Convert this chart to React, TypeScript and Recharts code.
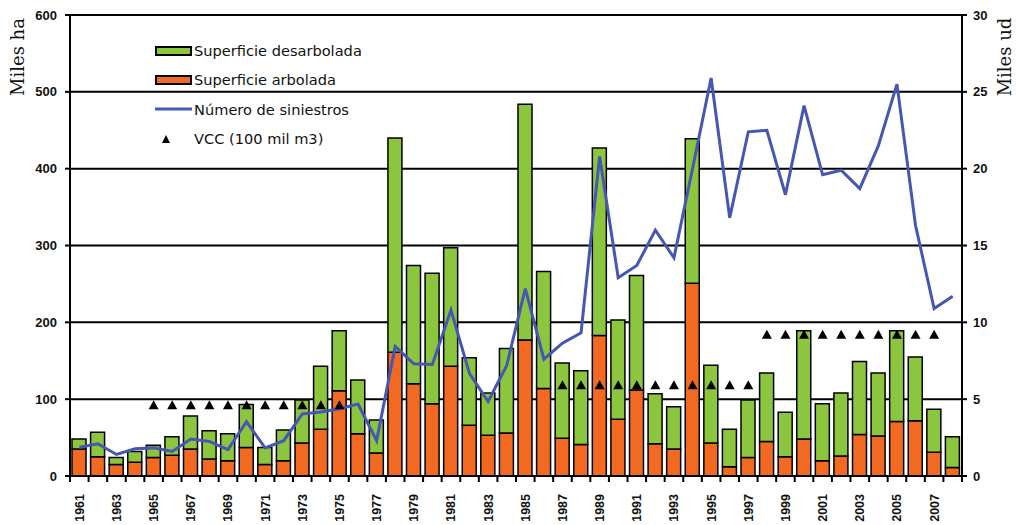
import React from "react";
import {
  ComposedChart,
  Bar,
  Line,
  Scatter,
  XAxis,
  YAxis,
  CartesianGrid,
} from "recharts";

const years = [
  1961, 1962, 1963, 1964, 1965, 1966, 1967, 1968, 1969, 1970, 1971, 1972,
  1973, 1974, 1975, 1976, 1977, 1978, 1979, 1980, 1981, 1982, 1983, 1984,
  1985, 1986, 1987, 1988, 1989, 1990, 1991, 1992, 1993, 1994, 1995, 1996,
  1997, 1998, 1999, 2000, 2001, 2002, 2003, 2004, 2005, 2006, 2007, 2008,
];

// miles ha
const arbolada = [
  35, 25, 15, 18, 24, 27, 35, 22, 20, 37, 15, 20, 43, 61, 111, 55, 30,
  161, 120, 94, 143, 66, 53, 56, 177, 114, 49, 41, 183, 74, 112, 42, 35, 251,
  43, 12, 24, 45, 25, 48, 20, 26, 54, 52, 71, 72, 31, 11,
];
const desarbolada = [
  13, 32, 9, 14, 16, 24, 43, 37, 35, 56, 22, 40, 56, 82, 78, 70, 43,
  279, 154, 170, 154, 88, 55, 110, 307, 152, 98, 96, 244, 129, 149, 65, 55, 188,
  101, 49, 75, 89, 58, 141, 74, 82, 95, 82, 118, 83, 56, 40,
];

// miles ud
const siniestros = [
  1.87, 2.1, 1.4, 1.77, 1.83, 1.6, 2.4, 2.25, 1.72, 3.53, 1.83, 2.3, 4.04,
  4.17, 4.38, 4.68, 2.3, 8.43, 7.3, 7.26, 10.8, 6.66, 4.85, 7.19, 12.2, 7.6,
  8.64, 9.32, 20.8, 12.9, 13.7, 16.0, 14.2, 20.0, 25.9, 16.8, 22.4, 22.5, 18.3,
  24.1, 19.6, 19.9, 18.7, 21.5, 25.5, 16.3, 10.9, 11.7,
];

// 100 mil m3
const vcc: (number | null)[] = [
  null, null, null, null, 4.6, 4.6, 4.6, 4.6, 4.6, 4.6, 4.6, 4.6, 4.6, 4.6,
  4.6, null, null, null, null, null, null, null, null, null, null, null, 5.9,
  5.9, 5.9, 5.9, 5.9, 5.9, 5.9, 5.9, 5.9, 5.9, 5.9, 9.2, 9.2, 9.2, 9.2, 9.2,
  9.2, 9.2, 9.2, 9.2, 9.2, null,
];

const leftTicks = [0, 100, 200, 300, 400, 500, 600];
const rightTicks = [0, 5, 10, 15, 20, 25, 30];

const data = years.map((y, i) => ({
  year: y,
  arbolada: arbolada[i],
  desarbolada: desarbolada[i],
  siniestros: siniestros[i],
  vcc: vcc[i],
}));

const GREEN = "#8cc63f";
const ORANGE = "#f26a22";
const BLUE = "#4657b3";
const HALF = 892 / 48 / 2;

const YearTick = (props: any) => {
  const { x, y, payload, index } = props;
  const yr = payload.value;
  return (
    <g>
      <line x1={x - HALF} x2={x - HALF} y1={y} y2={y + 6} stroke="#000" strokeWidth={2} />
      {index === years.length - 1 && (
        <line x1={x + HALF} x2={x + HALF} y1={y} y2={y + 6} stroke="#000" strokeWidth={2} />
      )}
      {yr % 2 === 1 && (
        <text
          x={x}
          y={y + 18}
          dy="0.36em"
          transform={`rotate(-90, ${x}, ${y + 18})`}
          textAnchor="end"
          fontFamily="Liberation Sans, Arial, sans-serif"
          fontWeight="bold"
          fontSize={12.5}
          fill="#111"
        >
          {yr}
        </text>
      )}
    </g>
  );
};

const Triangle = (props: any) => {
  const { cx, cy, payload } = props;
  if (payload == null || payload.vcc == null) return <g />;
  return (
    <path
      d={`M${cx},${cy - 5} L${cx + 5},${cy + 4} L${cx - 5},${cy + 4} Z`}
      fill="#000"
    />
  );
};

const legendItems = [
  { label: "Superficie desarbolada", kind: "box", color: GREEN },
  { label: "Superficie arbolada", kind: "box", color: ORANGE },
  { label: "Número de siniestros", kind: "line", color: BLUE },
  { label: "VCC (100 mil m3)", kind: "tri", color: "#000" },
];

const LegendBox = () => (
  <div
    style={{
      position: "absolute",
      left: 155,
      top: 36,
      fontFamily: "DejaVu Sans, sans-serif",
      fontSize: 14.6,
      color: "#111",
    }}
  >
    {legendItems.map((it) => (
      <div key={it.label} style={{ display: "flex", alignItems: "center", height: 29.3 }}>
        <svg width={38} height={14} style={{ marginRight: 1 }}>
          {it.kind === "box" && (
            <rect x={1} y={3} width={35} height={8} fill={it.color} stroke="#000" strokeWidth={2} />
          )}
          {it.kind === "line" && <line x1={0} x2={37} y1={7} y2={7} stroke={it.color} strokeWidth={3} />}
          {it.kind === "tri" && <path d="M11,3 L15,11 L7,11 Z" fill="#000" />}
        </svg>
        <span>{it.label}</span>
      </div>
    ))}
  </div>
);

const axisTitle = (left: number): React.CSSProperties => ({
  position: "absolute",
  left,
  top: 57,
  transform: "translate(-50%, -50%) rotate(-90deg)",
  fontFamily: "DejaVu Serif, serif",
  fontSize: 18,
  whiteSpace: "nowrap",
  color: "#111",
});

export default function App() {
  return (
    <div style={{ position: "absolute", left: 0, top: 0, width: 1018, height: 525, background: "#fff" }}>
      <ComposedChart
        width={1018}
        height={525}
        data={data}
        margin={{ top: 15, right: 0, bottom: 0, left: 0 }}
        barSize={14}
      >
        <CartesianGrid vertical={false} stroke="#000" strokeWidth={2} yAxisId="left" />
        <XAxis
          dataKey="year"
          height={49}
          interval={0}
          tickSize={0}
          tickMargin={0}
          tick={<YearTick />}
          axisLine={{ stroke: "#000", strokeWidth: 2 }}
        />
        <YAxis
          yAxisId="left"
          width={70}
          domain={[0, 600]}
          ticks={leftTicks}
          interval={0}
          tick={{ fill: "#111", fontSize: 13, fontWeight: "bold", fontFamily: "Liberation Sans, Arial, sans-serif" }}
          tickLine={{ stroke: "#000", strokeWidth: 2 }}
          tickSize={5}
          tickMargin={8}
          axisLine={{ stroke: "#000", strokeWidth: 2 }}
        />
        <YAxis
          yAxisId="right"
          orientation="right"
          width={56}
          domain={[0, 30]}
          ticks={rightTicks}
          interval={0}
          tick={{ fill: "#111", fontSize: 13, fontWeight: "bold", fontFamily: "Liberation Sans, Arial, sans-serif" }}
          tickLine={{ stroke: "#000", strokeWidth: 2 }}
          tickSize={5}
          tickMargin={6}
          axisLine={{ stroke: "#000", strokeWidth: 2 }}
        />
        <Bar dataKey="arbolada" stackId="s" yAxisId="left" fill={ORANGE} stroke="#000" strokeWidth={1.5} isAnimationActive={false} />
        <Bar dataKey="desarbolada" stackId="s" yAxisId="left" fill={GREEN} stroke="#000" strokeWidth={1.5} isAnimationActive={false} />
        <Line
          dataKey="siniestros"
          yAxisId="right"
          type="linear"
          stroke={BLUE}
          strokeWidth={3}
          dot={false}
          isAnimationActive={false}
        />
        <Scatter dataKey="vcc" yAxisId="right" shape={<Triangle />} isAnimationActive={false} />
      </ComposedChart>
      <LegendBox />
      <div style={axisTitle(17)}>Miles ha</div>
      <div style={axisTitle(1004)}>Miles ud</div>
    </div>
  );
}
